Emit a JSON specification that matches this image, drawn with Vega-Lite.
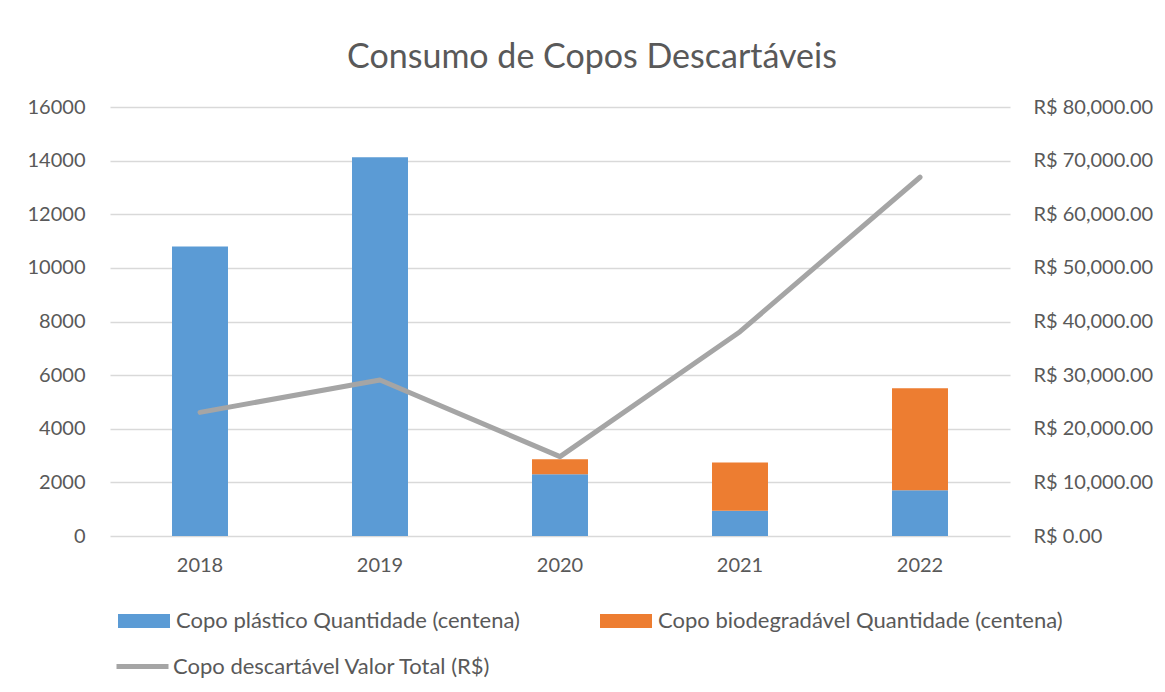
{
  "$schema": "https://vega.github.io/schema/vega-lite/v6.json",
  "width": 900,
  "height": 429,
  "autosize": {"type": "none"},
  "padding": {"left": 110, "top": 107, "right": 155, "bottom": 156},
  "background": "white",
  "title": {
    "text": "Consumo de Copos Descartáveis",
    "anchor": "middle",
    "frame": "group",
    "baseline": "alphabetic",
    "offset": 40,
    "dx": 32,
    "dy": 45,
    "font": "Lato",
    "fontSize": 34,
    "fontWeight": "normal",
    "color": "#595959"
  },
  "datasets": {
    "barras": [
      {"ano": "2018", "serie": "Copo plástico Quantidade (centena)", "quantidade": 10800},
      {"ano": "2018", "serie": "Copo biodegradável  Quantidade (centena)", "quantidade": 0},
      {"ano": "2019", "serie": "Copo plástico Quantidade (centena)", "quantidade": 14130},
      {"ano": "2019", "serie": "Copo biodegradável  Quantidade (centena)", "quantidade": 0},
      {"ano": "2020", "serie": "Copo plástico Quantidade (centena)", "quantidade": 2300},
      {"ano": "2020", "serie": "Copo biodegradável  Quantidade (centena)", "quantidade": 560},
      {"ano": "2021", "serie": "Copo plástico Quantidade (centena)", "quantidade": 940},
      {"ano": "2021", "serie": "Copo biodegradável  Quantidade (centena)", "quantidade": 1800},
      {"ano": "2022", "serie": "Copo plástico Quantidade (centena)", "quantidade": 1710},
      {"ano": "2022", "serie": "Copo biodegradável  Quantidade (centena)", "quantidade": 3800}
    ],
    "linha": [
      {"ano": "2018", "serie": "Copo descartável Valor Total (R$)", "valor": 23050},
      {"ano": "2019", "serie": "Copo descartável Valor Total (R$)", "valor": 29100},
      {"ano": "2020", "serie": "Copo descartável Valor Total (R$)", "valor": 14800},
      {"ano": "2021", "serie": "Copo descartável Valor Total (R$)", "valor": 38100},
      {"ano": "2022", "serie": "Copo descartável Valor Total (R$)", "valor": 66900}
    ]
  },
  "encoding": {
    "x": {
      "field": "ano",
      "type": "nominal",
      "scale": {"paddingInner": 0.689, "paddingOuter": 0.3445},
      "axis": {
        "title": null,
        "labelAngle": 0,
        "labelFont": "Lato",
        "labelFontSize": 20,
        "labelColor": "#595959",
        "labelPadding": 19,
        "ticks": false,
        "domain": false
      }
    }
  },
  "layer": [
    {
      "data": {"name": "barras"},
      "mark": {"type": "bar"},
      "encoding": {
        "y": {
          "field": "quantidade",
          "type": "quantitative",
          "aggregate": "sum",
          "stack": "zero",
          "scale": {"domain": [0, 16000], "nice": false},
          "axis": {
            "title": null,
            "values": [0, 2000, 4000, 6000, 8000, 10000, 12000, 14000, 16000],
            "format": "d",
            "labelFont": "Lato",
            "labelFontSize": 20,
            "labelColor": "#595959",
            "labelPadding": 25,
            "ticks": false,
            "domain": false,
            "grid": true,
            "gridColor": "#D9D9D9",
            "gridWidth": 1.5
          }
        },
        "color": {
          "field": "serie",
          "type": "nominal",
          "scale": {
            "domain": ["Copo plástico Quantidade (centena)", "Copo biodegradável  Quantidade (centena)"],
            "range": ["#5B9BD5", "#ED7D31"]
          },
          "legend": {
            "title": null,
            "orient": "none",
            "legendX": 8,
            "legendY": 488,
            "columns": 2,
            "columnPadding": 80,
            "symbolType": "M-1,-0.269H1V0.269H-1Z",
            "symbolSize": 2704,
            "symbolStrokeWidth": 0,
            "labelFont": "Lato",
            "labelFontSize": 22,
            "labelColor": "#595959",
            "labelOffset": 6,
            "labelLimit": 500
          }
        },
        "order": {"field": "serie", "sort": "descending"}
      }
    },
    {
      "data": {"name": "linha"},
      "mark": {"type": "line", "strokeWidth": 5, "strokeCap": "round", "strokeJoin": "round"},
      "encoding": {
        "y": {
          "field": "valor",
          "type": "quantitative",
          "scale": {"domain": [0, 80000], "nice": false},
          "axis": {
            "title": null,
            "orient": "right",
            "values": [0, 10000, 20000, 30000, 40000, 50000, 60000, 70000, 80000],
            "labelExpr": "'R$ ' + format(datum.value, ',.2f')",
            "labelFont": "Lato",
            "labelFontSize": 20,
            "labelColor": "#595959",
            "labelPadding": 23,
            "ticks": false,
            "domain": false,
            "grid": false
          }
        },
        "stroke": {
          "field": "serie",
          "type": "nominal",
          "scale": {"range": ["#A5A5A5"]},
          "legend": {
            "title": null,
            "orient": "none",
            "legendX": 4,
            "legendY": 531,
            "symbolType": "stroke",
            "symbolSize": 2704,
            "symbolStrokeWidth": 5,
            "labelFont": "Lato",
            "labelFontSize": 22,
            "labelColor": "#595959",
            "labelOffset": 2,
            "labelLimit": 500
          }
        }
      }
    }
  ],
  "resolve": {"scale": {"y": "independent"}},
  "config": {
    "view": {"stroke": null}
  }
}
